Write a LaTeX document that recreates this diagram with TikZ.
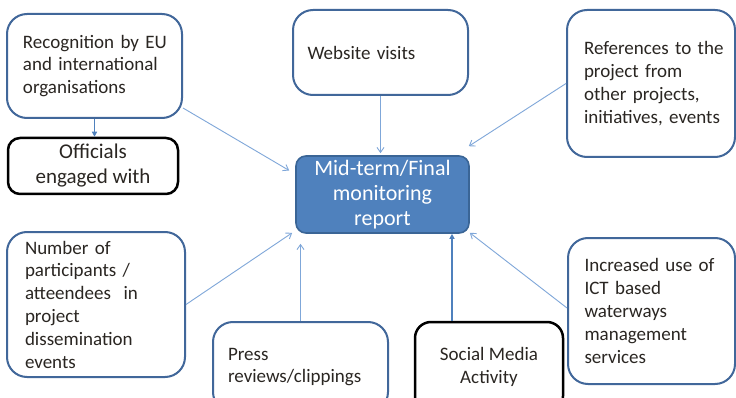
\documentclass[tikz,border=0pt]{standalone}
\usepackage{fontspec}
\setmainfont{Carlito}
\usetikzlibrary{arrows.meta,calc}
\definecolor{bord}{HTML}{41679A}
\definecolor{fillc}{HTML}{4F81BD}
\definecolor{cenb}{HTML}{3A6596}
\definecolor{arrc}{HTML}{7FA7D9}
\definecolor{arrd}{HTML}{4F81BD}
\definecolor{txt}{HTML}{2A2622}
\newcommand\oneline[1]{\mbox{#1}}
\begin{document}
\begin{tikzpicture}[x=1pt,y=-1pt,
  box/.style={draw=bord,line width=2pt,rounded corners=20pt,fill=white,text=txt,
    font=\fontsize{19}{22.8}\selectfont,align=left,inner sep=0pt},
  blackbox/.style={draw=black,line width=2.5pt,rounded corners=12pt,fill=white,text=txt,
    align=center,inner sep=0pt},
  centbox/.style={draw=cenb,line width=1.6pt,rounded corners=10pt,fill=fillc,text=white,
    font=\fontsize{22}{25}\selectfont,align=center,inner sep=0pt},
  arr/.style={draw=arrc,line width=0.9pt,-{Straight Barb[length=5pt,width=7pt]}},
  arrfill/.style={draw=arrd,line width=1.2pt,-{Triangle[length=5pt,width=5pt]}}]
\useasboundingbox (0,0) rectangle (736,398);
\clip (0,0) rectangle (736,398);
\fill[white] (0,0) rectangle (736,398);

\node[box,minimum width=175pt,minimum height=104pt,text width=143pt] (rec) at (94.5,66)
  {\oneline{Recognition by EU}\\\oneline{and international}\\\oneline{organisations}};
\node[blackbox,minimum width=170pt,minimum height=56pt,font=\fontsize{21}{25}\selectfont] (off) at (93,166)
  {Officials\\engaged with};
\node[box,minimum width=175pt,minimum height=85pt,text width=146pt] (web) at (380.5,52.5)
  {\oneline{Website visits}};
\node[centbox,minimum width=173pt,minimum height=77pt] (cen) at (382.5,194.5)
  {Mid-term/Final\\monitoring\\report};
\node[box,minimum width=168pt,minimum height=147pt,text width=134pt] (ref) at (651,83.5)
  {\oneline{References to the}\\\oneline{project from}\\\oneline{other projects,}\\\oneline{initiatives, events}};
\node[box,minimum width=178pt,minimum height=145pt,text width=142pt] (num) at (96,304.5)
  {\oneline{Number of}\\\oneline{participants /}\\\oneline{atteendees\ \ in}\\\oneline{project}\\\oneline{dissemination}\\\oneline{events}};
\node[box,minimum width=175pt,minimum height=90pt,text width=145pt] (press) at (300.5,367)
  {\oneline{Press}\\\oneline{reviews/clippings}};
\node[blackbox,minimum width=148pt,minimum height=90pt,rounded corners=16pt,font=\fontsize{19}{23}\selectfont] (soc) at (489,367)
  {Social Media\\Activity};
\node[box,minimum width=167pt,minimum height=146pt,text width=134pt] (inc) at (651.5,311)
  {\oneline{Increased use of}\\\oneline{ICT based}\\\oneline{waterways}\\\oneline{management}\\\oneline{services}};

\draw[arrfill] (rec.south) -- (rec.south |- off.north);
\draw[arr] ($(rec.east)+(0,42)$) -- ($(cen.west)+(-6,-24)$);
\draw[arr] (web.south) -- ($(web.south |- cen.north)+(0,-2)$);
\draw[arr] (ref.west) -- ($(cen.north east)+(-1,-9)$);
\draw[arr] (num.east) -- ($(cen.south west)+(-3,-1)$);
\draw[arr] (press.north) -- ($(press.north |- cen.south)+(0,10)$);
\draw[arrfill] ($(soc.north)+(-37,0)$) coordinate (sa) -- (sa |- cen.south);
\draw[arr] ($(inc.west)+(0,-3)$) -- ($(cen.south east)+(0,-1)$);
\end{tikzpicture}
\end{document}
